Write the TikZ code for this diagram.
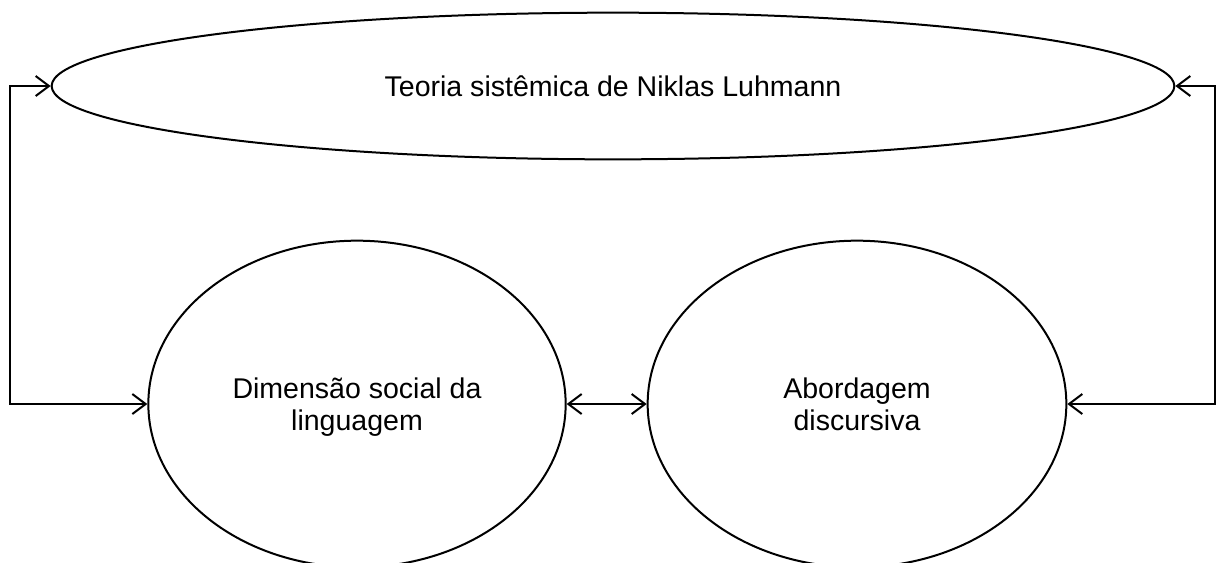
\documentclass[tikz,border=0pt]{standalone}
\usepackage{fontspec}
\setmainfont{Liberation Sans}
\usetikzlibrary{shapes.geometric,arrows.meta}

\begin{document}
\tikzset{every picture/.style={line width=1.5pt}}
\tikzset{elipse/.style={draw,ellipse,inner sep=0pt,align=center,font=\fontsize{21.4}{24}\selectfont},
  seta/.style={{Straight Barb[length=10pt,width=15pt]}-{Straight Barb[length=10pt,width=15pt]}}}

\begin{tikzpicture}[x=0.75pt,y=0.75pt,yscale=-1,xscale=1]
\useasboundingbox (0,0) rectangle (1217,562);

%Shape: Ellipse [id:teoria]
\node[elipse,minimum width=842pt,minimum height=110pt] (teoria) at (613,86) {Teoria sistêmica de Niklas Luhmann};
%Shape: Ellipse [id:dimensao]
\node[elipse,minimum width=313pt,minimum height=245pt,text depth=0pt] (dimensao) at (357,404) {Dimensão social da\\linguagem};
%Shape: Ellipse [id:abordagem]
\node[elipse,minimum width=314pt,minimum height=245pt,text depth=0pt] (abordagem) at (857,404) {Abordagem\\discursiva};

\coordinate (esq) at (10,86);
\coordinate (dir) at (1215,86);

%Straight Lines
\draw[seta] (teoria.west) -- (esq) |- (dimensao.west);
\draw[seta] (teoria.east) -- (dir) |- (abordagem.east);
\draw[seta] (dimensao) -- (abordagem);

\end{tikzpicture}
\end{document}
